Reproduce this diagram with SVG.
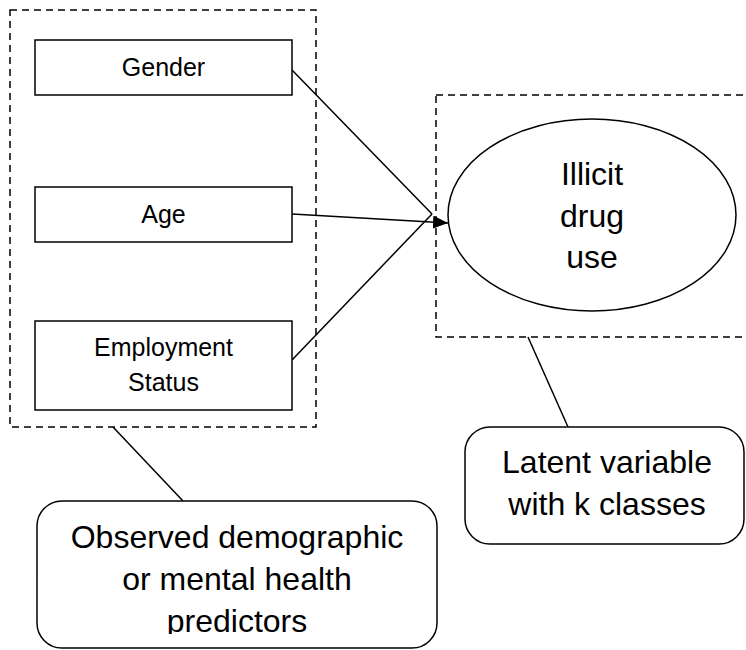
<svg xmlns="http://www.w3.org/2000/svg" width="746" height="650" viewBox="0 0 746 650">
  <style>
    .box { fill: #ffffff; stroke: #000000; stroke-width: 1.5; }
    .group { fill: none; stroke: #000000; stroke-width: 1.5; stroke-dasharray: 7 5; }
    .link { fill: none; stroke: #000000; stroke-width: 1.5; }
    .small { font-family: "Liberation Sans", Arial, sans-serif; font-size: 25px; fill: #000000; text-anchor: middle; }
    .large { font-family: "Liberation Sans", Arial, sans-serif; font-size: 32px; fill: #000000; text-anchor: middle; }
  </style>
  <defs>
    <marker id="arrowhead" markerWidth="15" markerHeight="13" refX="15" refY="6.5" orient="auto" markerUnits="userSpaceOnUse">
      <path d="M0,0 L15,6.5 L0,13 Z" fill="#000000"/>
    </marker>
    <clipPath id="noteClip">
      <rect x="37" y="501" width="400" height="133"/>
    </clipPath>
  </defs>

  <rect width="746" height="650" fill="#ffffff"/>

  <!-- dashed grouping frames -->
  <g id="predictor-group">
    <rect class="group" x="10" y="10" width="306" height="417"/>
  </g>
  <g id="latent-group">
    <rect class="group" x="436" y="95" width="314" height="242"/>
  </g>

  <!-- connectors -->
  <g id="connectors">
    <line class="link" x1="292" y1="70" x2="432" y2="214"/>
    <line class="link" x1="292" y1="360" x2="432" y2="214"/>
    <line class="link" x1="292" y1="214" x2="448" y2="223" stroke-width="2.2" marker-end="url(#arrowhead)"/>
    <line class="link" x1="113" y1="427" x2="183" y2="501"/>
    <line class="link" x1="528" y1="337" x2="568" y2="427"/>
  </g>

  <g id="gender">
    <rect class="box" x="35" y="40" width="257" height="55"/>
    <text class="small" x="163.5" y="76">Gender</text>
  </g>
  <g id="age">
    <rect class="box" x="35" y="187" width="257" height="55"/>
    <text class="small" x="163.5" y="223">Age</text>
  </g>
  <g id="employment">
    <rect class="box" x="35" y="321" width="257" height="89"/>
    <text class="small" x="163.5" y="356">Employment</text>
    <text class="small" x="163.5" y="391">Status</text>
  </g>

  <g id="illicit-drug-use">
    <ellipse class="box" cx="592" cy="215" rx="144" ry="96"/>
    <text class="large" x="592" y="185">Illicit</text>
    <text class="large" x="592" y="227">drug</text>
    <text class="large" x="592" y="268">use</text>
  </g>

  <g id="observed-note">
    <rect class="box" x="37" y="501" width="400" height="147" rx="25" ry="25"/>
    <g clip-path="url(#noteClip)">
      <text class="large" x="237" y="548">Observed demographic</text>
      <text class="large" x="237" y="590">or mental health</text>
      <text class="large" x="237" y="632">predictors</text>
    </g>
  </g>

  <g id="latent-note">
    <rect class="box" x="465" y="427" width="279" height="117" rx="25" ry="25"/>
    <text class="large" x="607" y="473">Latent variable</text>
    <text class="large" x="607" y="515">with k classes</text>
  </g>
</svg>
